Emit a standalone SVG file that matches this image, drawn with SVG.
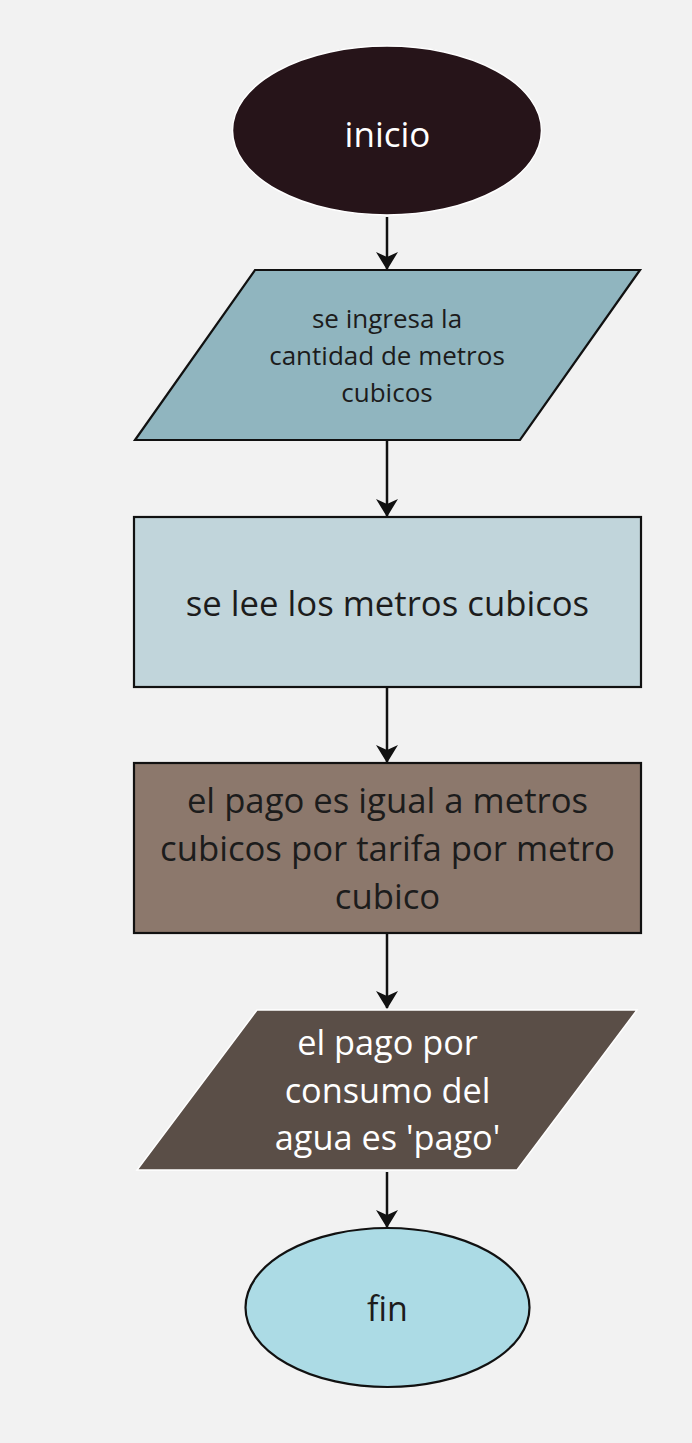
<svg xmlns="http://www.w3.org/2000/svg" width="692" height="1443" viewBox="0 0 692 1443">
<style>
text{font-family:"Open Sans","Noto Sans","Liberation Sans",sans-serif;text-anchor:middle}
.dark{fill:#1c1c1c}
.light{fill:#ffffff}
.conn{stroke:#111;stroke-width:2.5;fill:none}
</style>
<defs>
<marker id="arr" markerUnits="userSpaceOnUse" markerWidth="18" markerHeight="22" refX="17" refY="11" orient="auto" viewBox="0 0 18 22">
<path d="M0,0 L18,11 L0,22 L5,11 Z" fill="#111"/>
</marker>
</defs>
<rect width="692" height="1443" fill="#f2f2f2"/>
<g id="connectors">
<line class="conn" x1="387" y1="217" x2="387" y2="269" marker-end="url(#arr)"/>
<line class="conn" x1="387" y1="441" x2="387" y2="516" marker-end="url(#arr)"/>
<line class="conn" x1="387" y1="688" x2="387" y2="762" marker-end="url(#arr)"/>
<line class="conn" x1="387" y1="934" x2="387" y2="1008" marker-end="url(#arr)"/>
<line class="conn" x1="387" y1="1172" x2="387" y2="1227" marker-end="url(#arr)"/>
</g>
<g id="inicio">
<ellipse cx="387" cy="130.5" rx="154.5" ry="84.5" fill="#261419" stroke="#ffffff" stroke-width="1.5"/>
<text class="light" x="387.5" y="146.5" font-size="35">inicio</text>
</g>
<g id="ingreso">
<polygon points="255,270 640,270 520,440 135,440" fill="#90b5bf" stroke="#111" stroke-width="2.2"/>
<text class="dark" font-size="26"><tspan x="387" y="328">se ingresa la</tspan><tspan x="387" y="365">cantidad de metros</tspan><tspan x="387" y="402">cubicos</tspan></text>
</g>
<g id="lectura">
<rect x="134" y="517" width="507" height="170" fill="#c1d5db" stroke="#111" stroke-width="2.2"/>
<text class="dark" font-size="34.7" x="387.5" y="616">se lee los metros cubicos</text>
</g>
<g id="calculo">
<rect x="134" y="763" width="507" height="170" fill="#8c786c" stroke="#111" stroke-width="2.2"/>
<text class="dark" font-size="34.7"><tspan x="387.5" y="813">el pago es igual a metros</tspan><tspan x="387.5" y="861">cubicos por tarifa por metro</tspan><tspan x="387.5" y="909">cubico</tspan></text>
</g>
<g id="salida">
<polygon points="257,1010 637,1010 517,1170 137,1170" fill="#5a4e47" stroke="#ffffff" stroke-width="1.5"/>
<text class="light" font-size="34.3"><tspan x="387.5" y="1055">el pago por</tspan><tspan x="387.5" y="1103">consumo del</tspan><tspan x="387.5" y="1150">agua es 'pago'</tspan></text>
</g>
<g id="fin">
<ellipse cx="387.5" cy="1307.5" rx="142" ry="79.5" fill="#acdbe5" stroke="#111" stroke-width="2.2"/>
<text class="dark" x="387.5" y="1320.5" font-size="34">fin</text>
</g>
</svg>
